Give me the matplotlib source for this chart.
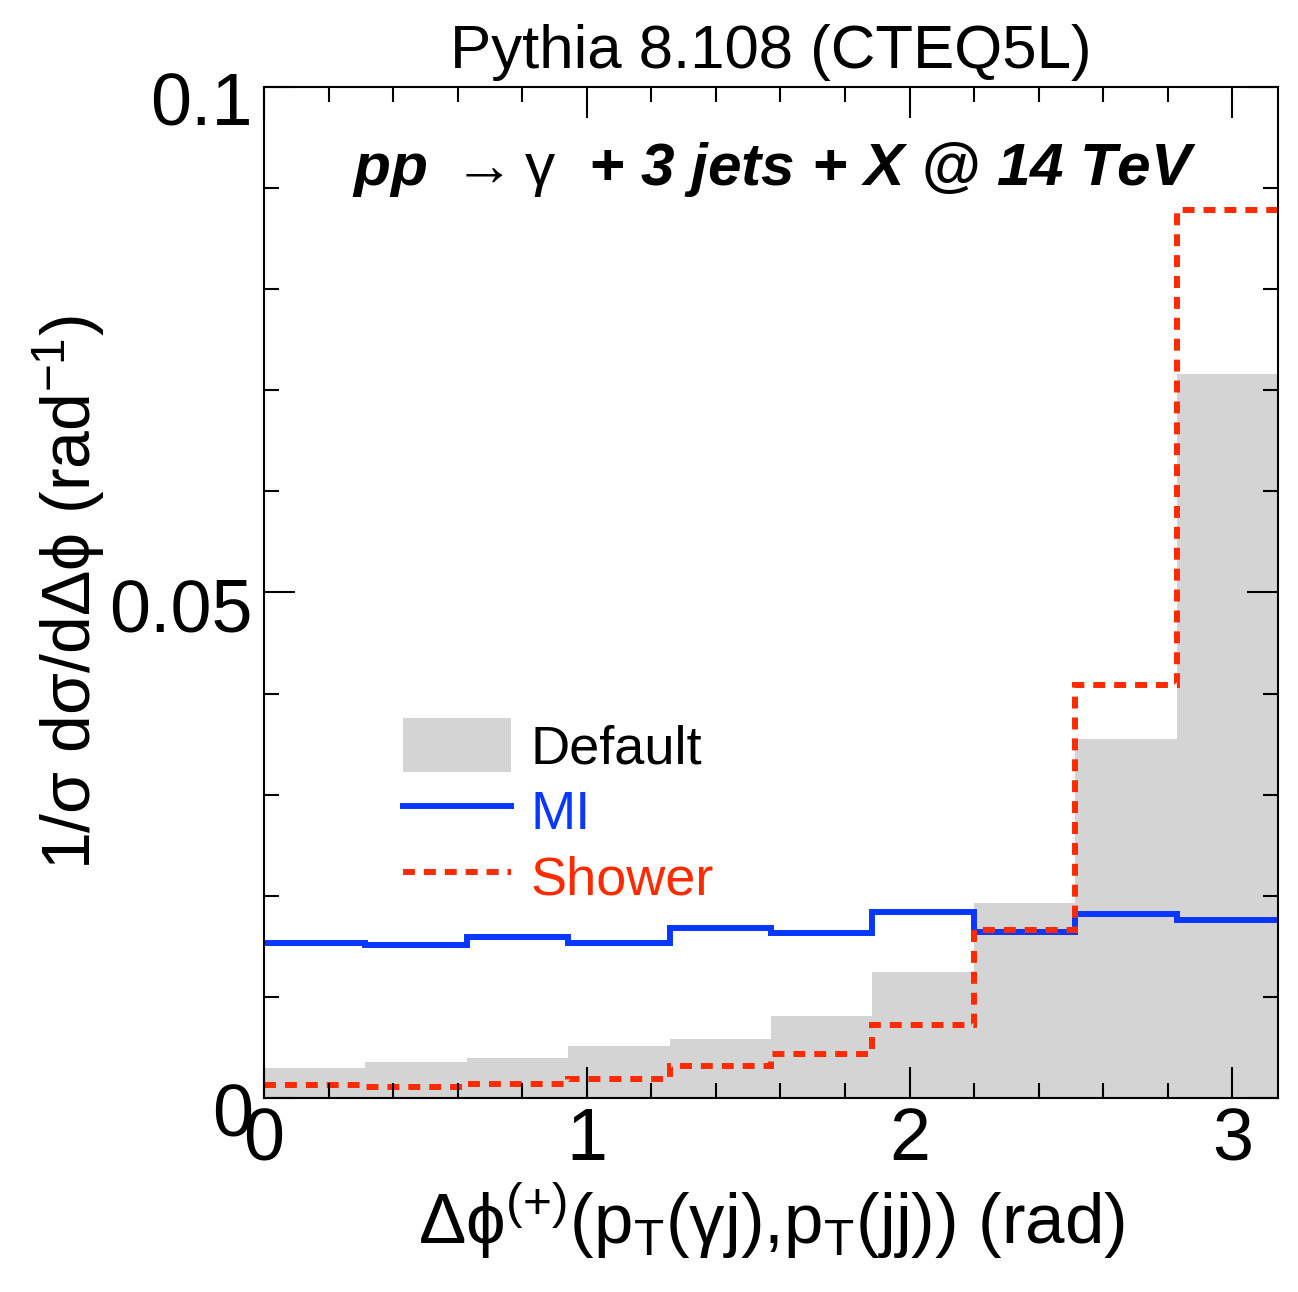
import numpy as np
import matplotlib
matplotlib.use("Agg")
import matplotlib.pyplot as plt
import matplotlib.transforms as mtransforms
from matplotlib.patches import Patch
from matplotlib.lines import Line2D
from matplotlib.ticker import MultipleLocator, FuncFormatter

plt.rcParams["font.family"] = ["Liberation Sans", "DejaVu Sans"]
plt.rcParams["mathtext.fontset"] = "custom"
plt.rcParams["mathtext.rm"] = "Liberation Sans"
plt.rcParams["mathtext.it"] = "Liberation Sans:italic"
plt.rcParams["mathtext.bf"] = "Liberation Sans:bold"

# 10 bins from 0 to pi
bin_edges = np.linspace(0, np.pi, 11)
default_vals = [0.0030, 0.0036, 0.0040, 0.0051, 0.0058, 0.0081, 0.0125, 0.0193, 0.0355, 0.0716]
mi_vals = [0.0153, 0.0151, 0.0159, 0.0153, 0.0168, 0.0163, 0.0184, 0.0164, 0.0182, 0.0176]
shower_vals = [0.0013, 0.0011, 0.0014, 0.0019, 0.0032, 0.0043, 0.0072, 0.0166, 0.0408, 0.0878]

series_labels = ["Default", "MI", "Shower"]
gray = "#d4d4d4"
blue = "#0a37ff"
red = "#ff2a00"

fig = plt.figure(figsize=(12.98, 12.92), dpi=100)
ax = fig.add_axes([0.2034, 0.1502, 0.7812, 0.7825])

ax.stairs(default_vals, bin_edges, fill=True, color=gray, lw=0)
ax.stairs(mi_vals, bin_edges, baseline=None, color=blue, lw=4.3)
ax.stairs(shower_vals, bin_edges, baseline=None, color=red, lw=4.3,
          linestyle=(0, (2.0, 1.5)))

ax.set_xlim(0, np.pi)
ax.set_ylim(0, 0.1)

for s in ax.spines.values():
    s.set_linewidth(1.5)

ax.xaxis.set_major_locator(MultipleLocator(1))
ax.xaxis.set_minor_locator(MultipleLocator(0.2))
ax.yaxis.set_major_locator(MultipleLocator(0.05))
ax.yaxis.set_minor_locator(MultipleLocator(0.01))
ax.xaxis.set_major_formatter(FuncFormatter(lambda v, p: f"{v:g}"))
ax.yaxis.set_major_formatter(FuncFormatter(lambda v, p: f"{v:g}"))
ax.tick_params(which="both", direction="in", top=True, right=True, width=1.5)
ax.tick_params(which="major", length=22, labelsize=53)
ax.tick_params(which="minor", length=11)
ax.tick_params(axis="x", which="major", pad=6)
ax.tick_params(axis="y", which="major", pad=8)

# ROOT puts the y labels a bit lower than the ticks
off = mtransforms.ScaledTranslation(0, -12 / 100, fig.dpi_scale_trans)
for lab in ax.get_yticklabels():
    lab.set_transform(lab.get_transform() + off)

ax.set_xlabel(r"Δϕ$^{(+)}$(p$_{\rm T}$(γj),p$_{\rm T}$(jj)) (rad)", fontsize=51, labelpad=4)
ax.set_ylabel(r"1/σ dσ/dΔϕ (rad$^{-1}$)", fontsize=49, labelpad=2)
ax.set_title("Pythia 8.108 (CTEQ5L)", fontsize=44.5, pad=14)

# arrow and gamma are plain weight in the original
ax.text(0.503, 0.918, r"pp $\rightarrow \mathrm{γ}$  + 3 jets + X @ 14 TeV", transform=ax.transAxes,
        ha="center", va="center", fontsize=43.5, fontweight="bold", style="italic")

handles = [
    Patch(facecolor=gray, edgecolor="none"),
    Line2D([], [], color=blue, lw=4.3),
    Line2D([], [], color=red, lw=4.3, linestyle=(0, (2.0, 1.5))),
]
leg = ax.legend(handles, series_labels, loc="upper left", bbox_to_anchor=(0.137, 0.376),
                frameon=False, fontsize=39, handlelength=2.0, handleheight=1.15,
                handletextpad=0.35, labelspacing=0.18, borderpad=0, borderaxespad=0,
                labelcolor=["black", blue, red])

fig.savefig("out.png", dpi=100)
